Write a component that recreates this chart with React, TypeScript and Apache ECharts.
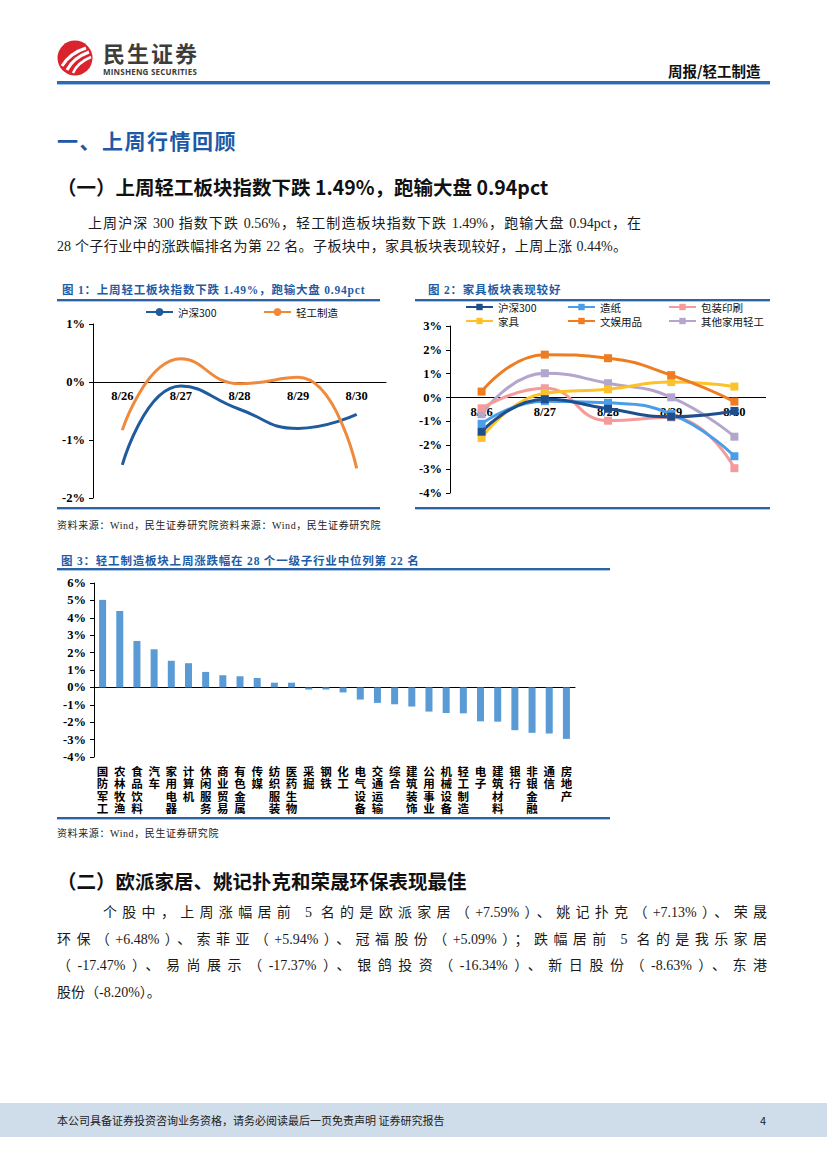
import React, { useEffect, useRef } from 'react';
import * as echarts from 'echarts';

// ---------- data ----------
const dates = ['8/26', '8/27', '8/28', '8/29', '8/30'];
const hs300 = [-1.43, -0.07, -0.47, -0.8, -0.56];
const qgzz = [-0.83, 0.4, -0.03, 0.08, -1.49];

const zaozhi = [-1.1, -0.15, -0.22, -0.69, -2.46];
const baozhuang = [-0.45, 0.39, -0.97, -0.83, -2.96];
const jiaju = [-1.69, 0.18, 0.35, 0.65, 0.46];
const wenyu = [0.25, 1.8, 1.65, 0.94, -0.17];
const qita = [-0.7, 1.02, 0.6, 0.01, -1.64];

const industries = ['国防军工', '农林牧渔', '食品饮料', '汽车', '家用电器', '计算机', '休闲服务', '商业贸易', '有色金属', '传媒', '纺织服装', '医药生物', '采掘', '钢铁', '化工', '电气设备', '交通运输', '综合', '建筑装饰', '公用事业', '机械设备', '轻工制造', '电子', '建筑材料', '银行', '非银金融', '通信', '房地产'];
const industryChg = [5.03, 4.39, 2.67, 2.19, 1.53, 1.39, 0.89, 0.7, 0.64, 0.54, 0.27, 0.27, -0.12, -0.12, -0.29, -0.7, -0.89, -0.97, -1.1, -1.39, -1.47, -1.49, -1.95, -1.97, -2.46, -2.61, -2.65, -2.96];

// ---------- styles ----------
const SERIF = '"Liberation Serif", "Times New Roman", "Noto Sans CJK SC", serif';
const SANS = '"Noto Sans CJK SC", "Noto Sans", sans-serif';
const BLUE = '#1f5ca6';

const axisFont = { fontFamily: SERIF, fontWeight: 'bold', fontSize: 12.5, color: '#000' };
const blackLine = { lineStyle: { color: '#000', width: 1 } };
const pct = (v: number) => v + '%';
const legendText = { fontFamily: SANS, fontSize: 10.5, color: '#111', lineHeight: 12 };

function Chart({ option, style }: { option: any; style: any }) {
  const ref = useRef<HTMLDivElement>(null);
  useEffect(() => {
    const c = echarts.init(ref.current!, null, { renderer: 'svg' });
    c.setOption(option);
    return () => c.dispose();
  }, []);
  return <div ref={ref} style={{ position: 'absolute', ...style }} />;
}

// x axis placed on the zero line (labels included) through a negative offset
const zeroXAxis = (gridH: number, min: number, max: number) => ({
  type: 'category', data: dates,
  offset: -gridH * (0 - min) / (max - min),
  axisLine: { onZero: false, ...blackLine },
  axisTick: { length: 4, ...blackLine },
  axisLabel: { ...axisFont, margin: 8 },
});

const F1 = { min: -2, max: 1, h: 174 };
const fig1Option = {
  animation: false,
  legend: [
    { data: ['沪深300'], left: 95, top: 4, padding: 0, itemWidth: 27, itemHeight: 10, textStyle: legendText },
    { data: ['轻工制造'], left: 213, top: 4, padding: 0, itemWidth: 27, itemHeight: 10, textStyle: legendText },
  ],
  grid: { left: 43, top: 22, width: 293, height: F1.h },
  xAxis: zeroXAxis(F1.h, F1.min, F1.max),
  yAxis: {
    type: 'value', min: F1.min, max: F1.max, interval: 1,
    splitLine: { show: false },
    axisLine: { show: true, ...blackLine }, axisTick: { show: true, length: 4, ...blackLine },
    axisLabel: { ...axisFont, margin: 8, formatter: pct },
  },
  series: [
    { name: '沪深300', type: 'line', data: hs300, smooth: 0.5, symbol: 'none', lineStyle: { width: 3, color: '#1f5c9e' }, itemStyle: { color: '#1f5c9e' } },
    { name: '轻工制造', type: 'line', data: qgzz, smooth: 0.5, symbol: 'none', lineStyle: { width: 3, color: '#ef8a3c' }, itemStyle: { color: '#ef8a3c' } },
  ],
};

const f2Colors = { hs: '#1f4e8c', zz: '#4a9ee8', bz: '#f59b9b', jj: '#fbc22a', wy: '#ee7d22', qt: '#b3a5cc' };
const mkF2 = (name: string, data: number[], color: string) => ({
  name, type: 'line', data, smooth: 0.5, symbol: 'rect', symbolSize: 8,
  lineStyle: { width: 3, color }, itemStyle: { color },
});
const f2Legend = (data: string[], left: number) => ({
  data, left, top: 1, padding: 0, orient: 'vertical', itemGap: 2, itemWidth: 27, itemHeight: 8,
  textStyle: legendText,
});

const F2 = { min: -4, max: 3, h: 167 };
const fig2Option = {
  animation: false,
  legend: [
    f2Legend(['沪深300', '家具'], 55),
    f2Legend(['造纸', '文娱用品'], 157),
    f2Legend(['包装印刷', '其他家用轻工'], 258),
  ],
  grid: { left: 40, top: 26, width: 316, height: F2.h },
  xAxis: zeroXAxis(F2.h, F2.min, F2.max),
  yAxis: {
    type: 'value', min: F2.min, max: F2.max, interval: 1,
    splitLine: { show: false },
    axisLine: { show: true, ...blackLine }, axisTick: { show: true, length: 4, ...blackLine },
    axisLabel: { ...axisFont, margin: 8, formatter: pct },
  },
  series: [
    mkF2('其他家用轻工', qita, f2Colors.qt),
    mkF2('包装印刷', baozhuang, f2Colors.bz),
    mkF2('家具', jiaju, f2Colors.jj),
    mkF2('造纸', zaozhi, f2Colors.zz),
    mkF2('沪深300', hs300, f2Colors.hs),
    mkF2('文娱用品', wenyu, f2Colors.wy),
  ],
};

const F3 = { min: -4, max: 6, h: 174 };
const fig3Option = {
  animation: false,
  grid: { left: 44, top: 13, width: 481, height: F3.h },
  xAxis: [
    {
      type: 'category', data: industries, position: 'bottom',
      offset: -F3.h * (0 - F3.min) / (F3.max - F3.min),
      axisLine: { onZero: false, ...blackLine },
      axisTick: { interval: 0, length: 4, ...blackLine },
      axisLabel: { show: false },
    },
    {
      type: 'category', data: industries, position: 'bottom',
      axisLine: { show: false, onZero: false }, axisTick: { show: false },
      axisLabel: {
        interval: 0, margin: 8, fontFamily: SANS, fontWeight: 'bold', fontSize: 11.5, lineHeight: 12.2,
        color: '#000', verticalAlign: 'top',
        formatter: (s: string) => s.split('').join('\n'),
      },
    },
  ],
  yAxis: {
    type: 'value', min: F3.min, max: F3.max, interval: 1,
    splitLine: { show: false },
    axisLine: { show: true, ...blackLine }, axisTick: { show: true, length: 4, ...blackLine },
    axisLabel: { ...axisFont, margin: 8, formatter: pct },
  },
  series: [{ type: 'bar', data: industryChg, barWidth: 7, itemStyle: { color: '#5b9bd5' } }],
};

// ---------- page text helpers ----------
function T({ x, y, size, h, children, style }: any) {
  const lh = h || Math.round(size * 1.3);
  return (
    <div style={{ position: 'absolute', left: x, top: y - lh / 2, height: lh, lineHeight: lh + 'px', fontSize: size, whiteSpace: 'nowrap', ...style }}>
      {children}
    </div>
  );
}
function J({ x, y, w, size, children, style }: any) {
  const lh = Math.round(size * 1.4);
  return (
    <div style={{ position: 'absolute', left: x, top: y - lh / 2, width: w, height: lh, lineHeight: lh + 'px', fontSize: size, whiteSpace: 'nowrap', textAlign: 'justify', textAlignLast: 'justify', ...style }}>
      {children}
    </div>
  );
}
function Rule({ x, y, w }: any) {
  return (
    <div style={{ position: 'absolute', left: x, top: y - 1, width: w, height: 2, background: '#2d62a6', borderBottom: '1px solid #a9c6e8' }} />
  );
}

const bodyStyle = { fontFamily: SERIF, color: '#1a1a1a' };
const capStyle = { fontFamily: SERIF, fontWeight: 'bold', color: BLUE, letterSpacing: 0.8 };
const srcStyle = { fontFamily: SERIF, color: '#222', letterSpacing: 0.6 };

export default function App() {
  return (
    <div style={{ position: 'absolute', left: 0, top: 0, width: 827, height: 1169, background: '#fff', overflow: 'hidden' }}>
      {/* header */}
      <svg style={{ position: 'absolute', left: 56, top: 39 }} width={38} height={38} viewBox="0 0 38 38">
        <circle cx={19} cy={19} r={17.5} fill="#d9232d" />
        <path d="M6 27 Q14 14 30 9" stroke="#fff" strokeWidth={3} fill="none" />
        <path d="M11 31 Q17 19 33 13" stroke="#fff" strokeWidth={3} fill="none" />
        <path d="M17 34 Q21 24 35 18" stroke="#fff" strokeWidth={2.5} fill="none" />
      </svg>
      <T x={103} y={52} size={22} h={24} style={{ fontFamily: SANS, fontWeight: 'bold', color: '#3c3c3c', letterSpacing: 2 }}>民生证券</T>
      <T x={103} y={71} size={8} h={9} style={{ fontFamily: '"Open Sans", "Noto Sans", sans-serif', fontWeight: 'bold', color: '#3c3c3c', letterSpacing: 0.2 }}>MINSHENG SECURITIES</T>
      <T x={668} y={70} size={14.5} style={{ fontFamily: SANS, fontWeight: 'bold', color: '#111' }}>周报/轻工制造</T>
      <div style={{ position: 'absolute', left: 57, top: 81, width: 713, height: 2.5, background: '#2d6bb0', borderBottom: '1px solid #9fc1e6' }} />

      {/* section 1 */}
      <T x={57} y={140} size={21} style={{ fontFamily: SANS, fontWeight: 'bold', color: '#1c5aa8', letterSpacing: 1.5 }}>一、上周行情回顾</T>
      <T x={57} y={186} size={19.5} style={{ fontFamily: SANS, fontWeight: 'bold', color: '#111' }}>（一）上周轻工板块指数下跌 1.49%，跑输大盘 0.94pct</T>
      <J x={88} y={224} w={553} size={14} style={bodyStyle}>上周沪深 300 指数下跌 0.56%，轻工制造板块指数下跌 1.49%，跑输大盘 0.94pct，在</J>
      <J x={57} y={247} w={570} size={14} style={bodyStyle}>28 个子行业中的涨跌幅排名为第 22 名。子板块中，家具板块表现较好，上周上涨 0.44%。</J>

      {/* figure 1 & 2 */}
      <T x={62} y={290} size={11.5} style={capStyle}>图 1：上周轻工板块指数下跌 1.49%，跑输大盘 0.94pct</T>
      <T x={428} y={290} size={11.5} style={capStyle}>图 2：家具板块表现较好</T>
      <Rule x={57} y={300} w={323} />
      <Rule x={415} y={300} w={355} />
      <Chart option={fig1Option} style={{ left: 50, top: 302, width: 340, height: 204 }} />
      <Chart option={fig2Option} style={{ left: 410, top: 300, width: 356, height: 205 }} />
      <Rule x={57} y={508} w={323} />
      <Rule x={415} y={508} w={355} />
      <T x={57} y={525} size={10} style={srcStyle}>资料来源：Wind，民生证券研究院资料来源：Wind，民生证券研究院</T>

      {/* figure 3 */}
      <T x={61} y={561} size={11.5} style={capStyle}>图 3：轻工制造板块上周涨跌幅在 28 个一级子行业中位列第 22 名</T>
      <Rule x={57} y={569} w={553} />
      <Chart option={fig3Option} style={{ left: 50, top: 570, width: 565, height: 246 }} />
      <Rule x={57} y={818} w={553} />
      <T x={57} y={833} size={10} style={srcStyle}>资料来源：Wind，民生证券研究院</T>

      {/* section 2 */}
      <T x={57} y={880} size={19.5} style={{ fontFamily: SANS, fontWeight: 'bold', color: '#111' }}>（二）欧派家居、姚记扑克和荣晟环保表现最佳</T>
      <J x={103} y={913} w={664} size={14} style={bodyStyle}>个股中，上周涨幅居前 5 名的是欧派家居（+7.59%）、姚记扑克（+7.13%）、荣晟</J>
      <J x={57} y={940} w={710} size={14} style={bodyStyle}>环保（+6.48%）、索菲亚（+5.94%）、冠福股份（+5.09%）；跌幅居前 5 名的是我乐家居</J>
      <J x={57} y={966} w={710} size={14} style={bodyStyle}>（-17.47%）、易尚展示（-17.37%）、银鸽投资（-16.34%）、新日股份（-8.63%）、东港</J>
      <T x={57} y={993} size={14} style={bodyStyle}>股份（-8.20%）。</T>

      {/* footer */}
      <div style={{ position: 'absolute', left: 0, top: 1103, width: 827, height: 34, background: '#cfdcea' }} />
      <T x={57} y={1120} size={11} style={{ fontFamily: SANS, color: '#222' }}>本公司具备证券投资咨询业务资格，请务必阅读最后一页免责声明 证券研究报告</T>
      <T x={760} y={1120} size={11} style={{ fontFamily: SANS, color: '#222' }}>4</T>
    </div>
  );
}
